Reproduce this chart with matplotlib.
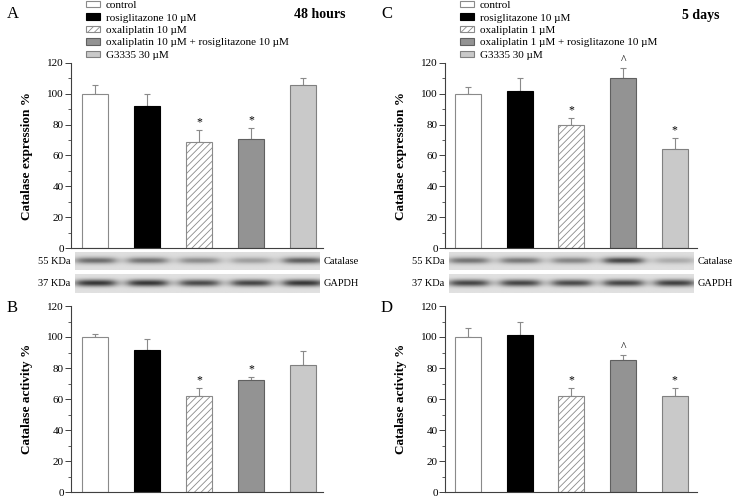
import numpy as np
import matplotlib
matplotlib.use('Agg')
import matplotlib.pyplot as plt

plt.rcParams['font.family'] = ['Liberation Serif', 'DejaVu Serif']
plt.rcParams['hatch.linewidth'] = 0.6

# dados
grupos_48h = ['control', 'rosiglitazone 10 µM', 'oxaliplatin 10 µM',
              'oxaliplatin 10 µM + rosiglitazone 10 µM', 'G3335 30 µM']
grupos_5d = ['control', 'rosiglitazone 10 µM', 'oxaliplatin 1 µM',
             'oxaliplatin 1 µM + rosiglitazone 10 µM', 'G3335 30 µM']

expr_48h = [100, 92, 68.5, 71, 105.5]
expr_48h_err = [5.5, 8, 8, 7, 5]
expr_48h_sig = ['', '', '*', '*', '']

atv_48h = [100, 91.5, 62, 72, 82]
atv_48h_err = [1.7, 7.5, 5, 2.2, 9]
atv_48h_sig = ['', '', '*', '*', '']

expr_5d = [100, 102, 79.5, 110.5, 64]
expr_5d_err = [4.5, 8.5, 5, 6.5, 7.5]
expr_5d_sig = ['', '', '*', '^', '*']

atv_5d = [100, 101.5, 62, 85, 62]
atv_5d_err = [5.5, 8.5, 5, 3.5, 5]
atv_5d_sig = ['', '', '*', '^', '*']

# intensidade das bandas (western blot)
cat_48h = [0.45, 0.42, 0.32, 0.25, 0.5]
gapdh_48h = [0.68, 0.68, 0.6, 0.62, 0.68]
cat_5d = [0.42, 0.4, 0.35, 0.6, 0.2]
gapdh_5d = [0.62, 0.62, 0.6, 0.62, 0.64]

cores = ['white', 'black', 'white', '#939393', '#c9c9c9']
bordas = ['#8a8a8a', 'black', '#8a8a8a', '#606060', '#808080']
hachuras = [None, None, '/////', None, None]

W, H = 735, 498
fig = plt.figure(figsize=(W / 100, H / 100), dpi=100)


def eixo(x0, x1, y_top, y_bot):
    return fig.add_axes([x0 / W, 1 - y_bot / H, (x1 - x0) / W, (y_bot - y_top) / H])


def barras(ax, vals, errs, sig, ylabel, xlim):
    x = np.arange(len(vals))
    bs = ax.bar(x, vals, width=0.5, color=cores, edgecolor=bordas, linewidth=0.8, zorder=2)
    for b, h in zip(bs, hachuras):
        if h:
            b.set_hatch(h)
    ax.errorbar(x, vals, yerr=[np.zeros(len(vals)), errs], fmt='none',
                ecolor='#8a8a8a', elinewidth=0.8, capsize=2.5, capthick=0.8, zorder=1)
    for xi, v, e, s in zip(x, vals, errs, sig):
        if s:
            ax.text(xi, v + e + 1, s, ha='center', va='bottom', fontsize=8.5)
    ax.set_ylim(0, 120)
    ax.set_xlim(*xlim)
    ax.set_yticks(range(0, 121, 20))
    ax.set_yticks(range(10, 120, 20), minor=True)
    ax.set_xticks([])
    for s in ['top', 'right']:
        ax.spines[s].set_visible(False)
    for s in ['left', 'bottom']:
        ax.spines[s].set_color('#404040')
        ax.spines[s].set_linewidth(0.8)
    ax.tick_params(axis='y', which='major', length=4, width=0.7, labelsize=8, colors='#404040',
                   labelcolor='black', pad=1)
    ax.tick_params(axis='y', which='minor', length=2, width=0.6, colors='#404040')
    ax.set_ylabel(ylabel, fontsize=9.5, fontweight='bold')
    ax.yaxis.set_label_coords(-0.15, 0.5)
    return bs


def blot(ax, niveis, fundo, xlim, ext):
    xs = np.linspace(ext[0], ext[1], 300)
    ys = np.linspace(-1, 1, 24)
    img = np.full((len(ys), len(xs)), fundo)
    for i, nv in enumerate(niveis):
        faixa = 1 / (1 + np.exp(-(xs - (i - 0.36)) / 0.07)) * 1 / (1 + np.exp((xs - (i + 0.38)) / 0.07))
        perfil = np.exp(-(ys / 0.36) ** 2)
        img = img - nv * np.outer(perfil, faixa)
    ax.imshow(img, cmap='gray', vmin=0, vmax=1, aspect='auto',
              extent=[ext[0], ext[1], 0, 1], interpolation='bilinear')
    ax.set_xlim(*xlim)
    ax.set_ylim(0, 1)
    ax.axis('off')


paineis = [
    (71, 323, 95, 52, 'A', 'B', '48 hours', grupos_48h, expr_48h, expr_48h_err, expr_48h_sig,
     atv_48h, atv_48h_err, atv_48h_sig, cat_48h, gapdh_48h),
    (445, 697, 468, 51.7, 'C', 'D', '5 days', grupos_5d, expr_5d, expr_5d_err, expr_5d_sig,
     atv_5d, atv_5d_err, atv_5d_sig, cat_5d, gapdh_5d),
]

for (x0, x1, c0, passo, l1, l2, titulo, grupos, ex, exe, exs, at, ate, ats, cat, gap) in paineis:
    xlim = (-(c0 - x0) / passo, 4 + (x1 - (c0 + 4 * passo)) / passo)

    ax1 = eixo(x0, x1, 63, 248)
    bs = barras(ax1, ex, exe, exs, 'Catalase expression %', xlim)

    ax2 = eixo(x0, x1, 306, 492)
    barras(ax2, at, ate, ats, 'Catalase activity %', xlim)

    ext = ((x0 + 4 - c0) / passo, (x1 - 3 - c0) / passo)
    b1 = eixo(x0, x1, 252, 270)
    blot(b1, cat, 0.87, xlim, ext)
    b2 = eixo(x0, x1, 274, 293)
    blot(b2, gap, 0.88, xlim, ext)

    fig.text((x0 - 1) / W, 1 - 261 / H, '55 KDa', ha='right', va='center', fontsize=7.5)
    fig.text((x0 - 1) / W, 1 - 283 / H, '37 KDa', ha='right', va='center', fontsize=7.5)
    fig.text((x1 + 1) / W, 1 - 262 / H, 'Catalase', ha='left', va='center', fontsize=7.5)
    fig.text((x1 + 1) / W, 1 - 284 / H, 'GAPDH', ha='left', va='center', fontsize=7.5)

    fig.text((x0 - 64) / W, 1 - 14 / H, l1, ha='left', va='center', fontsize=12)
    fig.text((x0 - 64) / W, 1 - 308 / H, l2, ha='left', va='center', fontsize=12)
    fig.text((x1 + 22) / W, 1 - 15 / H, titulo, ha='right', va='center', fontsize=10,
             fontweight='bold')

    fig.legend(bs, grupos, loc='upper left', bbox_to_anchor=((x0 + 15) / W, 1 - 1 / H),
               frameon=False, fontsize=8, borderpad=0, borderaxespad=0,
               handlelength=1.25, handleheight=0.5, handletextpad=0.55, labelspacing=0.3)

fig.savefig('out.png', dpi=100)
